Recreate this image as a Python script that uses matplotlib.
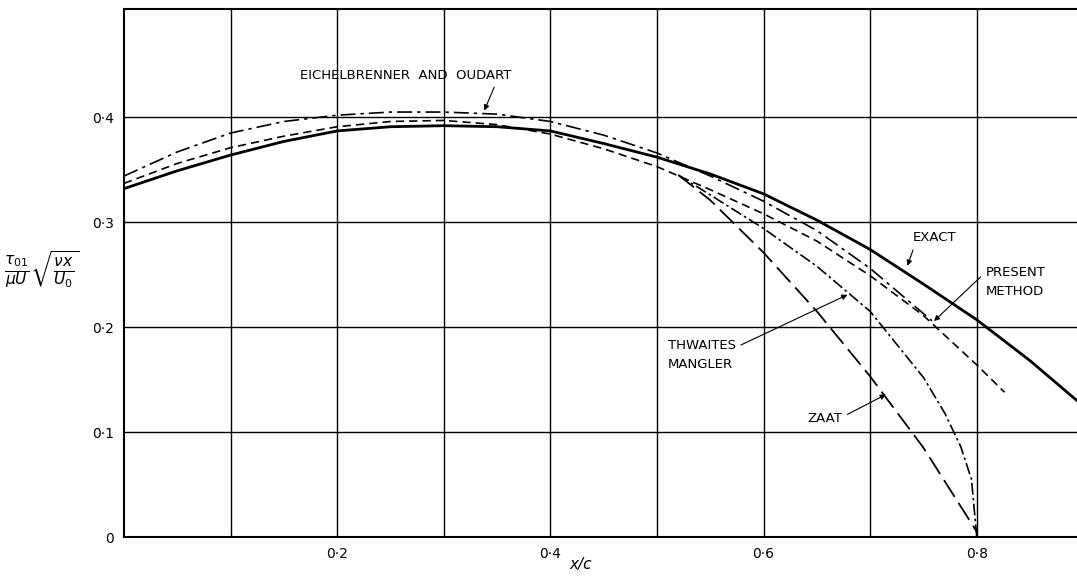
import numpy as np
import matplotlib.pyplot as plt

# Values (x/c, skin friction parameter)
exact_x = [0, 0.05, 0.1, 0.15, 0.2, 0.25, 0.3, 0.35, 0.4, 0.45, 0.5, 0.55, 0.6, 0.65, 0.7, 0.75, 0.8, 0.85, 0.894]
exact_y = [0.332, 0.349, 0.364, 0.377, 0.387, 0.391, 0.392, 0.391, 0.387, 0.375, 0.362, 0.346, 0.327, 0.302, 0.274, 0.241, 0.207, 0.168, 0.13]

present_x = [0, 0.05, 0.1, 0.15, 0.2, 0.25, 0.3, 0.35, 0.4, 0.45, 0.5, 0.55, 0.6, 0.65, 0.7, 0.75, 0.8, 0.826]
present_y = [0.337, 0.356, 0.371, 0.382, 0.391, 0.396, 0.397, 0.393, 0.384, 0.370, 0.353, 0.331, 0.308, 0.282, 0.249, 0.211, 0.164, 0.138]

eich_x = [0, 0.05, 0.1, 0.15, 0.2, 0.25, 0.3, 0.35, 0.4, 0.45, 0.5, 0.55, 0.6, 0.65, 0.7, 0.758]
eich_y = [0.344, 0.367, 0.385, 0.396, 0.402, 0.405, 0.405, 0.403, 0.396, 0.383, 0.366, 0.344, 0.320, 0.292, 0.256, 0.206]

thwaites_x = [0.52, 0.55, 0.6, 0.65, 0.7, 0.75, 0.77, 0.785, 0.795, 0.8]
thwaites_y = [0.345, 0.326, 0.294, 0.258, 0.215, 0.152, 0.118, 0.086, 0.055, 0.0]

zaat_x = [0.52, 0.55, 0.6, 0.65, 0.7, 0.75, 0.8]
zaat_y = [0.345, 0.321, 0.271, 0.215, 0.153, 0.085, 0.005]

xgrid = [0.1, 0.2, 0.3, 0.4, 0.5, 0.6, 0.7, 0.8]
xlabels = ['', '0·2', '', '0·4', '', '0·6', '', '0·8']
yticks = [0, 0.1, 0.2, 0.3, 0.4]
ylabels = ['0', '0·1', '0·2', '0·3', '0·4']

fig = plt.figure(figsize=(10.77, 5.76), dpi=100)
ax = fig.add_axes([0.1151, 0.0677, 0.8849, 0.9163])

ax.plot(exact_x, exact_y, color='black', lw=2.0)
ax.plot(present_x, present_y, color='black', lw=1.2, ls=(0, (5, 3)))
ax.plot(eich_x, eich_y, color='black', lw=1.2, ls=(0, (9, 3, 2, 3)))
ax.plot(thwaites_x, thwaites_y, color='black', lw=1.2, ls=(0, (7, 2, 1.5, 2)))
ax.plot(zaat_x, zaat_y, color='black', lw=1.3, ls=(0, (11, 4)))

ax.set_xlim(0, 0.894)
ax.set_ylim(0, 0.503)
ax.set_xticks(xgrid)
ax.set_xticklabels(xlabels)
ax.set_yticks(yticks)
ax.set_yticklabels(ylabels)
ax.tick_params(length=0, labelsize=10, pad=7)
ax.grid(True, color='black', lw=1.0)
for s in ['left', 'bottom', 'top']:
    ax.spines[s].set_linewidth(1.5)
ax.spines['right'].set_visible(False)

# axis titles
ax.text(0.428, -0.026, 'x/c', fontsize=11, style='italic', ha='center', va='center', clip_on=False)
fig.text(0.004, 1 - 270 / 576, r'$\frac{\tau_{01}}{\mu U}\sqrt{\frac{\nu x}{U_0}}$',
         fontsize=16, ha='left', va='center')

arrow = dict(arrowstyle='-|>', color='black', lw=0.8, mutation_scale=8)
fs = 9.5
ax.annotate('EICHELBRENNER  AND  OUDART', xy=(0.337, 0.404), xytext=(0.165, 0.44),
            fontsize=fs, va='center', ha='left',
            arrowprops=dict(arrow, relpos=(0.93, 0.0)))
ax.annotate('EXACT', xy=(0.734, 0.256), xytext=(0.74, 0.285),
            fontsize=fs, va='center', ha='left',
            arrowprops=dict(arrow, relpos=(0.05, 0.0)))
ax.annotate('PRESENT\nMETHOD', xy=(0.758, 0.204), xytext=(0.808, 0.243),
            fontsize=fs, va='center', ha='left', linespacing=1.6,
            arrowprops=dict(arrow, relpos=(0.0, 0.8)))
ax.annotate('THWAITES\nMANGLER', xy=(0.681, 0.232), xytext=(0.51, 0.173),
            fontsize=fs, va='center', ha='left', linespacing=1.6,
            arrowprops=dict(arrow, relpos=(1.0, 0.75)))
ax.annotate('ZAAT', xy=(0.717, 0.137), xytext=(0.641, 0.113),
            fontsize=fs, va='center', ha='left',
            arrowprops=dict(arrow, relpos=(1.0, 0.6)))

fig.savefig('out.png', dpi=100)
